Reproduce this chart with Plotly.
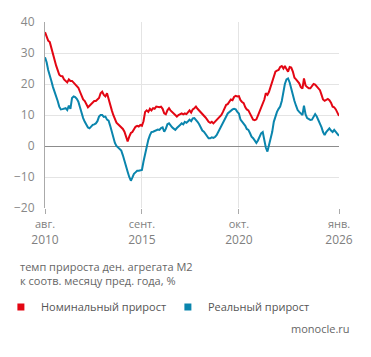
import pandas as pd
import plotly.graph_objects as go

start_month = "2010-08-01"
nominal = [36.7, 35.5, 34, 33.5, 31.5, 29, 27.5, 26, 24.5, 23, 22.6, 22.5, 21.5, 21, 20.5, 21.5, 21, 21, 20.5, 20,
           19.5, 18.8, 17.5, 16, 15, 14.5, 13.5, 12.5, 13, 13.5, 14, 14.5, 14.5, 15, 15.5, 17, 17.5, 16.5, 16, 17,
           15, 13, 11.5, 10, 8.5, 7.5, 7, 6.5, 6, 5.5, 4.6, 3, 1.5, 3, 4.2, 4.5, 5.5, 6.2, 6.5, 6.3,
           6.8, 6.5, 8, 11, 11.5, 11, 12, 11.5, 12.2, 12, 12.7, 12.5, 12.5, 12.7, 12, 10.5, 10.2, 11.5, 12.2, 11.5,
           11, 10.5, 10, 9.5, 10, 10.3, 10.5, 10.2, 10.5, 10.3, 11, 11.5, 10.8, 11.8, 12.2, 12.7, 12, 11.5, 11, 10.5,
           10, 9.2, 8.5, 7.8, 7.5, 7.8, 7.3, 7.8, 8.5, 8.8, 9.3, 10, 11, 12.5, 13.3, 13.5, 14.5, 15, 14.8, 15.8,
           16.2, 16, 16.1, 14.8, 14.2, 13.8, 12.5, 11.8, 11.5, 10.5, 9, 8.5, 8.3, 8.6, 9.8, 11, 12.5, 13.5, 15, 17,
           16.5, 17.5, 19, 20.7, 22.5, 24, 24.3, 24.5, 25.5, 25.8, 25, 25.8, 24.8, 24, 25.5, 25.3, 24, 22, 21.5, 21,
           20.2, 19, 18.5, 21.8, 19.5, 19, 18.6, 18.6, 19.5, 20, 19.8, 19.2, 18.8, 18, 16.5, 15, 14.6, 15, 15.2, 14.8,
           14, 12.7, 12.5, 11.8, 10.8, 9.7]
real = [28.6, 27, 24.5, 23, 21, 19, 17.5, 16.5, 14.5, 12.7, 11.8, 11.9, 12.1, 12.2, 11.6, 13, 12, 15.5, 16, 15.8,
        15.2, 14.3, 12.5, 10.5, 9, 7.8, 6.8, 6, 5.7, 6.3, 6.8, 7, 7.3, 8, 9.5, 10, 10, 9.4, 9.5, 8.5,
        8.2, 6.5, 4.5, 3, 1, 0, -0.5, -1.2, -1.5, -3, -4.5, -6.5, -8.3, -10, -11.2, -10.2, -9, -8.5, -8, -8,
        -7.8, -7.7, -5, -2.4, 0, 2, 3.5, 4.5, 4.6, 4.8, 5, 5.3, 5.2, 5.8, 6, 4.6, 5.5, 7, 7.3, 6.5,
        6, 5.6, 5.2, 5.8, 6.2, 6.8, 7.3, 7, 7.8, 7.5, 8, 8.5, 8, 8.9, 9, 8.5, 7.8, 7, 6, 5,
        4.6, 3.8, 3, 2.5, 2.5, 2.8, 2.6, 2.9, 3.5, 4.5, 5.5, 6.2, 7, 8.5, 9.5, 10.5, 11, 11.5, 11.8, 12,
        11.8, 11, 10.5, 8.5, 7.8, 7.3, 6.5, 5.5, 5.2, 4.2, 3, 2.5, 1.5, 1, 1.8, 3.2, 4.1, 4.5, 2, -0.5,
        -1.8, 0, 1.9, 4.5, 7.8, 9.5, 11, 12, 12.7, 14.5, 17.5, 20, 21.5, 21.8, 20.5, 18.5, 15.9, 14.5, 13, 11.6,
        11, 10.5, 10, 13, 10.2, 9, 8.7, 8.4, 8.5, 9.5, 10.3, 9.5, 8.5, 7.5, 6, 4.5, 3.5, 4.5, 5.2, 5.7,
        5, 4.5, 5.2, 4.5, 4, 3.3]
tick_dates = ["2010-08-01", "2015-09-01", "2020-10-01", "2026-01-01"]
tick_labels = ["<span style='font-size:11px'>авг.</span><br>2010",
               "<span style='font-size:11px'>сент.</span><br>2015",
               "<span style='font-size:11px'>окт.</span><br>2020",
               "<span style='font-size:11px'>янв.</span><br>2026"]
y_ticks = [-20, -10, 0, 10, 20, 30, 40]

dates = pd.date_range(start_month, periods=len(nominal), freq="MS")

RED = "#e30613"
BLUE = "#0a85ad"
FONT = "Open Sans"

fig = go.Figure()
fig.add_trace(go.Scatter(x=dates, y=nominal, mode="lines", line=dict(color=RED, width=2),
                         showlegend=False, hoverinfo="skip"))
fig.add_trace(go.Scatter(x=dates, y=real, mode="lines", line=dict(color=BLUE, width=2),
                         showlegend=False, hoverinfo="skip"))
# legend entries (square markers)
fig.add_trace(go.Scatter(x=[None], y=[None], mode="markers", name="Номинальный прирост",
                         marker=dict(symbol="square", size=7, color=RED), legend="legend"))
fig.add_trace(go.Scatter(x=[None], y=[None], mode="markers", name="Реальный прирост",
                         marker=dict(symbol="square", size=7, color=BLUE), legend="legend2"))

leg_common = dict(orientation="h", xanchor="left", yanchor="middle", y=-0.532,
                  font=dict(size=11, color="#555555", family=FONT), itemwidth=30,
                  bgcolor="rgba(0,0,0,0)", borderwidth=0)

fig.update_layout(
    width=363, height=349,
    margin=dict(l=37, r=32, t=14, b=149, autoexpand=False),
    paper_bgcolor="white", plot_bgcolor="white",
    font=dict(family=FONT, color="#666666", size=12),
    legend=dict(leg_common, x=-0.15),
    legend2=dict(leg_common, x=0.418),
    xaxis=dict(type="date", range=[tick_dates[0], tick_dates[-1]],
               tickvals=tick_dates, ticktext=tick_labels,
               showgrid=True, gridcolor="#e4e4e4", gridwidth=1,
               ticks="outside", ticklen=5, tickcolor="#aaaaaa",
               tickfont=dict(size=12, color="#808080"), showline=False, zeroline=False),
    yaxis=dict(range=[-20, 40], tickvals=y_ticks, showgrid=True, gridcolor="#e4e4e4",
               showline=True, linecolor="#aaaaaa", linewidth=1, ticks="", ticklabelstandoff=7,
               zeroline=True, zerolinecolor="#8c8c8c", zerolinewidth=1,
               tickfont=dict(size=12, color="#888888")),
    annotations=[
        dict(text="темп прироста ден. агрегата М2<br>к соотв. месяцу пред. года, %",
             xref="paper", yref="paper", x=-0.092, y=-0.263, xanchor="left", yanchor="top",
             align="left", showarrow=False, font=dict(size=11, color="#666666")),
        dict(text="monocle.ru", xref="paper", yref="paper", x=1.045, y=-0.597,
             xanchor="right", yanchor="top", showarrow=False,
             font=dict(size=11, color="#666666")),
    ],
)

fig.write_html("out.html")
